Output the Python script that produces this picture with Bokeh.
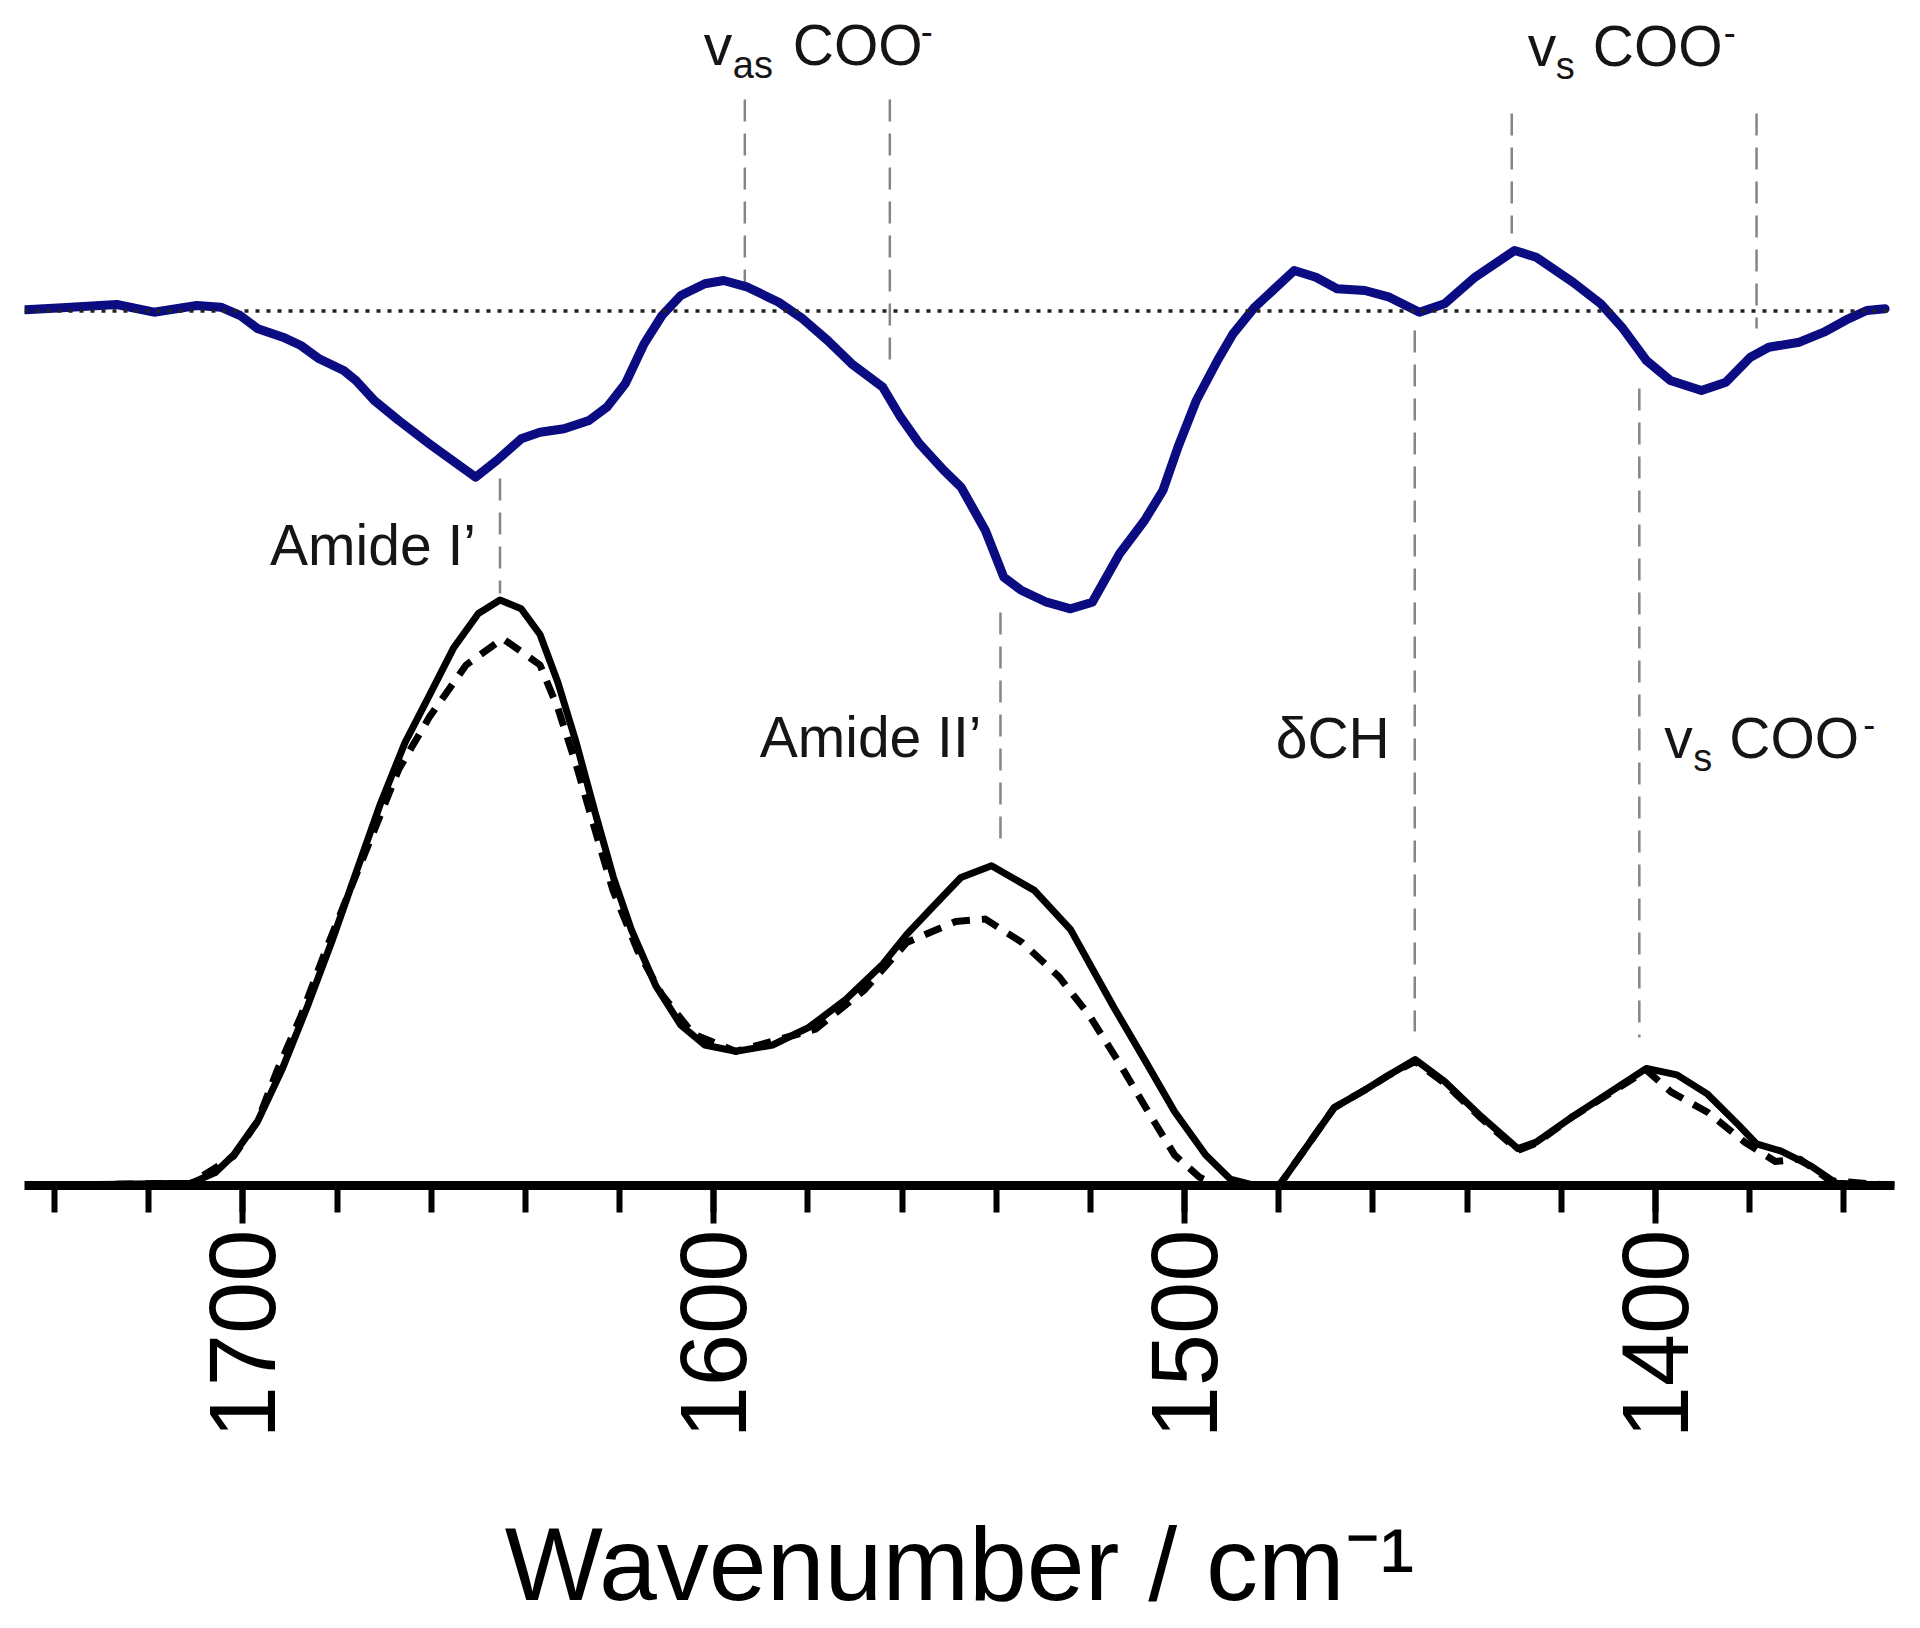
import math
import numpy as np
from bokeh.plotting import figure
from bokeh.models import Range1d, FixedTicker, Span
from bokeh.core.properties import value
from bokeh.embed import file_html
from bokeh.resources import INLINE

# ---------------- data ----------------
# second-derivative / difference spectrum (blue, arbitrary units)
blue_wn = [1746.2, 1738.4, 1726.8, 1718.9, 1709.8, 1704.7, 1700.6, 1696.8, 1691.5, 1687.7,
           1683.8, 1678.6, 1676.0, 1672.1, 1666.9, 1660.4, 1656.5, 1650.6, 1646.1, 1640.9,
           1636.9, 1631.8, 1626.5, 1622.7, 1618.8, 1614.8, 1611.0, 1607.0, 1601.9, 1597.9,
           1592.8, 1586.2, 1581.1, 1575.8, 1570.7, 1564.1, 1560.3, 1556.3, 1551.1, 1547.5,
           1542.3, 1538.4, 1534.6, 1529.3, 1524.2, 1519.6, 1513.8, 1508.5, 1504.6, 1501.4,
           1497.5, 1493.0, 1489.7, 1485.1, 1476.7, 1472.1, 1467.6, 1461.7, 1456.5, 1450.1,
           1444.8, 1438.3, 1429.9, 1425.3, 1417.5, 1411.6, 1407.1, 1401.9, 1396.8, 1390.2,
           1385.0, 1379.8, 1375.9, 1369.4, 1364.2, 1359.0, 1355.1, 1351.2]
blue_val = [0.011, 0.031, 0.064, -0.013, 0.054, 0.037, -0.046, -0.179, -0.263, -0.346,
            -0.479, -0.596, -0.696, -0.896, -1.096, -1.329, -1.463, -1.663, -1.496, -1.279,
            -1.213, -1.179, -1.096, -0.963, -0.729, -0.329, -0.046, 0.154, 0.271, 0.304,
            0.237, 0.087, -0.079, -0.296, -0.529, -0.763, -1.063, -1.329, -1.596, -1.760,
            -2.196, -2.663, -2.796, -2.913, -2.979, -2.913, -2.429, -2.096, -1.796, -1.363,
            -0.896, -0.496, -0.229, 0.037, 0.404, 0.337, 0.221, 0.204, 0.137, -0.013,
            0.071, 0.337, 0.604, 0.537, 0.287, 0.071, -0.163, -0.496, -0.696, -0.796,
            -0.713, -0.463, -0.363, -0.313, -0.213, -0.079, 0.004, 0.021]

# absorbance, solid black
abs_wn = [1746.2, 1711.0, 1705.9, 1702.0, 1696.8, 1691.6, 1686.4, 1681.2, 1676.0, 1670.8,
          1665.6, 1660.4, 1655.2, 1650.0, 1645.4, 1640.9, 1636.9, 1633.1, 1629.2, 1625.2,
          1621.3, 1617.5, 1612.3, 1607.0, 1601.9, 1595.3, 1587.5, 1579.8, 1571.9, 1564.1,
          1559.0, 1553.7, 1547.5, 1541.0, 1531.9, 1524.2, 1515.0, 1508.5, 1502.1, 1495.5,
          1490.3, 1485.1, 1479.9, 1474.7, 1468.2, 1461.7, 1456.5, 1451.0, 1444.8, 1437.0,
          1429.2, 1425.3, 1417.5, 1409.7, 1401.9, 1395.4, 1388.9, 1382.4, 1378.5, 1373.4,
          1366.9, 1361.6, 1349.2]
abs_solid = [0.0, 0.004, 0.022, 0.052, 0.111, 0.200, 0.304, 0.415, 0.534, 0.652,
             0.756, 0.837, 0.919, 0.977, 1.000, 0.985, 0.941, 0.859, 0.756, 0.637,
             0.526, 0.437, 0.341, 0.274, 0.240, 0.229, 0.240, 0.270, 0.318, 0.378,
             0.429, 0.474, 0.526, 0.546, 0.504, 0.437, 0.304, 0.215, 0.126, 0.052,
             0.011, 0.0, 0.0, 0.059, 0.133, 0.163, 0.189, 0.215, 0.178, 0.118,
             0.063, 0.074, 0.118, 0.159, 0.200, 0.189, 0.156, 0.104, 0.071, 0.059,
             0.033, 0.004, 0.0]

# absorbance, dashed black
dash_wn = [1746.2, 1711.0, 1702.0, 1697.0, 1692.9, 1687.7, 1682.5, 1677.3, 1672.1, 1666.9,
           1660.4, 1652.6, 1644.8, 1636.9, 1633.1, 1629.2, 1625.2, 1621.4, 1616.1, 1611.0,
           1604.4, 1595.3, 1578.4, 1568.0, 1559.0, 1548.6, 1542.3, 1534.5, 1526.6, 1520.1,
           1513.7, 1507.2, 1502.1, 1496.8, 1492.9, 1485.1, 1479.9, 1474.7, 1468.2, 1461.7,
           1456.5, 1451.0, 1444.8, 1437.0, 1429.2, 1425.3, 1417.5, 1409.7, 1401.9, 1396.7,
           1388.9, 1381.0, 1374.5, 1369.3, 1362.8, 1349.2]
abs_dash = [0.0, 0.004, 0.050, 0.108, 0.193, 0.289, 0.400, 0.504, 0.607, 0.711,
            0.800, 0.889, 0.934, 0.889, 0.815, 0.718, 0.607, 0.504, 0.400, 0.326,
            0.259, 0.229, 0.267, 0.334, 0.415, 0.451, 0.455, 0.415, 0.356, 0.289,
            0.207, 0.119, 0.052, 0.014, 0.0, 0.0, 0.0, 0.059, 0.133, 0.163,
            0.189, 0.212, 0.175, 0.115, 0.060, 0.072, 0.118, 0.157, 0.197, 0.160,
            0.125, 0.074, 0.041, 0.045, 0.008, 0.0]

# band assignments (wavenumber of each marker line)
band_wn = [1645.4, 1593.4, 1562.6, 1539.1, 1451.1, 1430.5, 1378.5, 1403.4]

major_ticks = [1700, 1600, 1500, 1400]
minor_ticks = list(range(1740, 1340, -20))

# ---------------- layout constants (canvas pixels) ----------------
W, H = 1920, 1628
FRAME_TOP = 0
FRAME_BOTTOM = 1185
A_PX = 585.5      # px per absorbance unit
B_ZERO = 310.4    # canvas y of blue zero line
B_PX = 100.0      # px per blue unit

def ay(py):
    return (FRAME_BOTTOM - py) / A_PX

p = figure(width=W, height=H, output_backend="svg", toolbar_location=None,
           x_range=Range1d(1746.4, 1349.2), y_range=Range1d(0, ay(FRAME_TOP)),
           y_axis_location=None,
           min_border_left=24, min_border_right=26, min_border_top=0,
           min_border_bottom=H - FRAME_BOTTOM)
p.title = None
p.outline_line_color = None
p.grid.visible = False
p.background_fill_color = "white"
p.border_fill_color = "white"
p.extra_y_ranges = {"blue": Range1d((B_ZERO - FRAME_BOTTOM) / B_PX, (B_ZERO - FRAME_TOP) / B_PX)}

ax = p.xaxis[0]
ax.ticker = FixedTicker(ticks=major_ticks, minor_ticks=minor_ticks)
ax.axis_line_width = 9
ax.axis_line_color = "black"
ax.major_tick_line_width = 6
ax.minor_tick_line_width = 6
ax.major_tick_line_color = "black"
ax.minor_tick_line_color = "black"
ax.major_tick_in = 0
ax.major_tick_out = 38
ax.minor_tick_in = 0
ax.minor_tick_out = 27
ax.major_label_orientation = math.pi / 2
ax.major_label_text_font = "Liberation Sans"
ax.major_label_text_font_size = "94px"
ax.major_label_text_color = "black"
ax.major_label_standoff = 6
ax.axis_label = "Wavenumber / cm\u207b\u00b9"
ax.axis_label_text_font = "Liberation Sans"
ax.axis_label_text_font_size = "104px"
ax.axis_label_text_font_style = "normal"
ax.axis_label_text_color = "black"
ax.axis_label_standoff = 64

# zero line of the blue trace
p.add_layout(Span(location=ay(B_ZERO), dimension="width", line_color="#222222",
                  line_width=3.5, line_dash="4 7"))

# band marker lines (grey dashed)
seg_top_px = [478, 99, 99, 612, 330, 113, 113, 388]
seg_bot_px = [593, 283, 362, 838, 1031, 233, 328, 1037]
p.segment(x0=band_wn, x1=band_wn, y0=[ay(v) for v in seg_top_px], y1=[ay(v) for v in seg_bot_px],
          line_color="#858585", line_width=2.5, line_dash="22 12")

# spectra
p.line(dash_wn, abs_dash, line_color="black", line_width=7, line_dash="18 12", line_join="round")
p.line(abs_wn, abs_solid, line_color="black", line_width=7, line_join="round")
p.line(blue_wn, blue_val, y_range_name="blue", line_color="#0c0c82", line_width=9,
       line_join="round", line_cap="round")

FONT = value("Liberation Sans")
TC = "#151515"
MAIN, SUB, SUP = 57, 38, 36

def ty(base_px, size):
    # baseline position (canvas px) -> data y, compensating the renderer's baseline offset
    return ay(base_px - 0.35 * size)

# right-aligned labels placed to the left of their marker line
p.text(x=[band_wn[0], band_wn[3], band_wn[4]],
       y=[ty(564, MAIN), ty(756, MAIN), ty(757, MAIN)],
       text=["Amide I\u2019", "Amide II\u2019", "\u03b4CH"],
       x_offset=[-24, -19, -25], text_align="right", text_baseline="alphabetic",
       text_font=FONT, text_font_size=f"{MAIN}px", text_color=TC)

# COO- labels built from main text, subscript and superscript pieces
def coo_label(anchor_wn, base_px, offs, sub):
    ov, osub, ocoo, osup = offs
    p.text(x=[anchor_wn, anchor_wn], y=[ty(base_px, MAIN)] * 2, text=["v", "COO"],
           x_offset=[ov, ocoo], text_align="left", text_baseline="alphabetic",
           text_font=FONT, text_font_size=f"{MAIN}px", text_color=TC)
    p.text(x=[anchor_wn], y=[ty(base_px + 14, SUB)], text=[sub], x_offset=[osub],
           text_align="left", text_baseline="alphabetic",
           text_font=FONT, text_font_size=f"{SUB}px", text_color=TC)
    p.text(x=[anchor_wn], y=[ty(base_px - 21, SUP)], text=["-"], x_offset=[osup],
           text_align="left", text_baseline="alphabetic",
           text_font=FONT, text_font_size=f"{SUP}px", text_color=TC)

coo_label(band_wn[1], 64, (-41, -12, 48, 176), "as")
coo_label(band_wn[5], 65, (16, 44, 81, 212), "s")
coo_label(band_wn[7], 757, (25, 54, 90, 224), "s")

open("out.html", "w").write(file_html(p, INLINE))
